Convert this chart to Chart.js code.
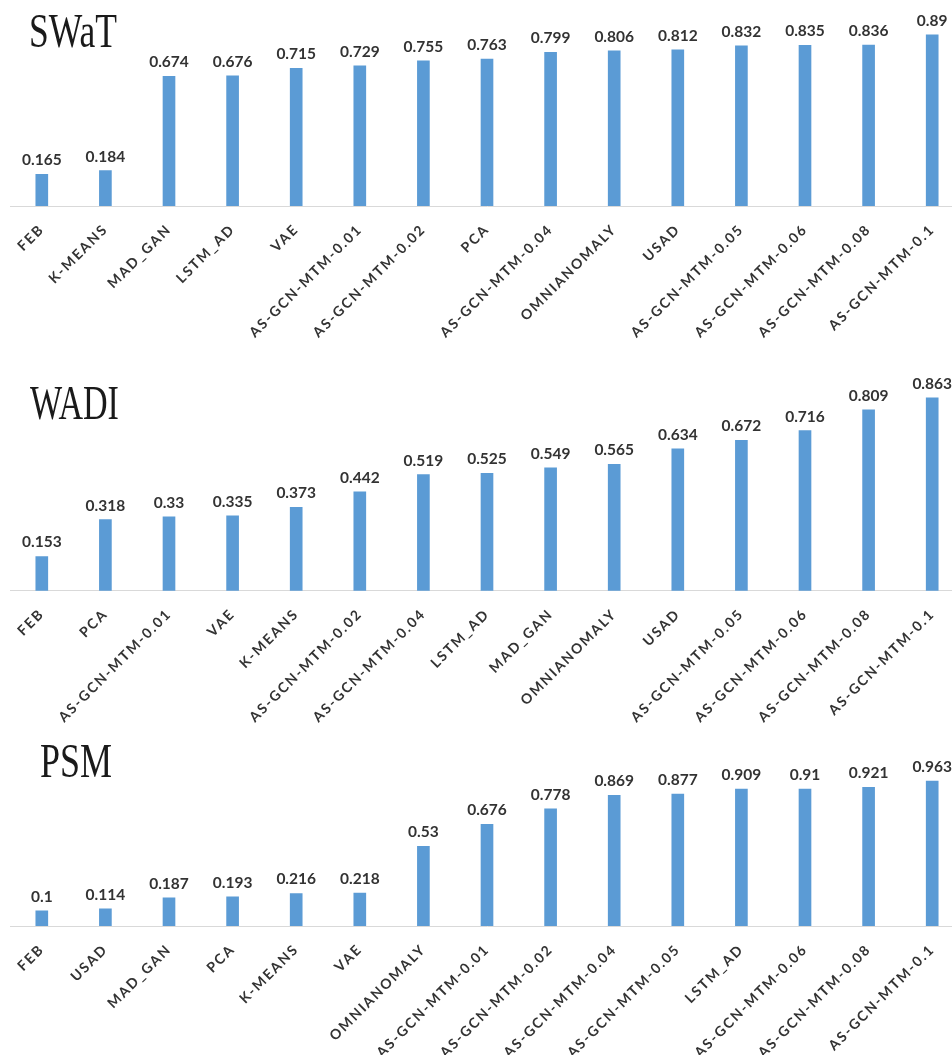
<!DOCTYPE html>
<html>
<head>
<meta charset="utf-8">
<script src="https://cdn.jsdelivr.net/npm/chart.js@4/dist/chart.umd.min.js"></script>
<style>
  html, body { margin: 0; padding: 0; background: #ffffff; overflow: hidden; width: 952px; height: 1055px; }
  .wrap { position: absolute; left: 0; }
  canvas { position: absolute; left: 0; top: 0; }
  .ttl { position: absolute; font-family: "Liberation Serif", serif; font-size: 48px; line-height: 48px; color: #1a1a1a; white-space: nowrap; transform-origin: 0 0; }
</style>
</head>
<body>
<script>
// ---------- data ----------
const swatLabels = ["FEB","K-MEANS","MAD_GAN","LSTM_AD","VAE","AS-GCN-MTM-0.01","AS-GCN-MTM-0.02","PCA","AS-GCN-MTM-0.04","OMNIANOMALY","USAD","AS-GCN-MTM-0.05","AS-GCN-MTM-0.06","AS-GCN-MTM-0.08","AS-GCN-MTM-0.1"];
const swatValues = [0.165,0.184,0.674,0.676,0.715,0.729,0.755,0.763,0.799,0.806,0.812,0.832,0.835,0.836,0.89];

const wadiLabels = ["FEB","PCA","AS-GCN-MTM-0.01","VAE","K-MEANS","AS-GCN-MTM-0.02","AS-GCN-MTM-0.04","LSTM_AD","MAD_GAN","OMNIANOMALY","USAD","AS-GCN-MTM-0.05","AS-GCN-MTM-0.06","AS-GCN-MTM-0.08","AS-GCN-MTM-0.1"];
const wadiValues = [0.153,0.318,0.33,0.335,0.373,0.442,0.519,0.525,0.549,0.565,0.634,0.672,0.716,0.809,0.863];

const psmLabels = ["FEB","USAD","MAD_GAN","PCA","K-MEANS","VAE","OMNIANOMALY","AS-GCN-MTM-0.01","AS-GCN-MTM-0.02","AS-GCN-MTM-0.04","AS-GCN-MTM-0.05","LSTM_AD","AS-GCN-MTM-0.06","AS-GCN-MTM-0.08","AS-GCN-MTM-0.1"];
const psmValues = [0.1,0.114,0.187,0.193,0.216,0.218,0.53,0.676,0.778,0.869,0.877,0.909,0.91,0.921,0.963];

const titles = ["SWaT", "WADI", "PSM"];

// ---------- layout / style ----------
const BAR_COLOR = "#5B9BD5";
const TEXT_COLOR = "#333333";
const CANVAS_W = 964;

const panels = [
  { title: titles[0], labels: swatLabels, values: swatValues, top: 0,   height: 350, padTop: 13.6, axisH: 144,   titleTop: 6.5,   titleLeft: 29, titleScale: 0.74 },
  { title: titles[1], labels: wadiLabels, values: wadiValues, top: 350, height: 375, padTop: 17.1, axisH: 134.3, titleTop: 378.5, titleLeft: 30, titleScale: 0.71 },
  { title: titles[2], labels: psmLabels,  values: psmValues,  top: 725, height: 330, padTop: 50.5, axisH: 129,   titleTop: 736.5, titleLeft: 40, titleScale: 0.75 }
];

const tickSpacing = {
  id: 'tickSpacing',
  beforeDraw(chart) { chart.ctx.letterSpacing = '1.8px'; },
  beforeDatasetsDraw(chart) { chart.ctx.letterSpacing = '0px'; }
};

const valueLabels = {
  id: 'valueLabels',
  afterDatasetsDraw(chart) {
    const ctx = chart.ctx;
    ctx.save();
    ctx.letterSpacing = '0px';
    ctx.font = 'bold 15.5px Lato';
    ctx.fillStyle = TEXT_COLOR;
    ctx.textAlign = 'center';
    ctx.textBaseline = 'alphabetic';
    const meta = chart.getDatasetMeta(0);
    const data = chart.data.datasets[0].data;
    meta.data.forEach((bar, i) => {
      ctx.fillText(String(data[i]), bar.x, bar.y - 9);
    });
    ctx.restore();
  }
};

panels.forEach(p => {
  const wrap = document.createElement('div');
  wrap.className = 'wrap';
  wrap.style.top = p.top + 'px';
  wrap.style.width = CANVAS_W + 'px';
  wrap.style.height = p.height + 'px';
  const cv = document.createElement('canvas');
  cv.width = CANVAS_W;
  cv.height = p.height;
  cv.style.width = CANVAS_W + 'px';
  cv.style.height = p.height + 'px';
  wrap.appendChild(cv);
  document.body.appendChild(wrap);

  const t = document.createElement('div');
  t.className = 'ttl';
  t.textContent = p.title;
  t.style.top = p.titleTop + 'px';
  t.style.left = p.titleLeft + 'px';
  t.style.transform = 'scaleX(' + p.titleScale + ')';
  document.body.appendChild(t);

  new Chart(cv, {
    type: 'bar',
    data: {
      labels: p.labels,
      datasets: [{ data: p.values, backgroundColor: BAR_COLOR, borderWidth: 0, barThickness: 12 }]
    },
    options: {
      responsive: false,
      animation: false,
      devicePixelRatio: 1,
      layout: { padding: { left: 10, right: 0, top: p.padTop, bottom: 0 } },
      plugins: { legend: { display: false }, tooltip: { enabled: false }, title: { display: false } },
      scales: {
        x: {
          grid: { display: false, drawTicks: false },
          border: { display: true, color: '#D9D9D9', width: 1 },
          ticks: {
            autoSkip: false,
            maxRotation: 45,
            minRotation: 45,
            padding: 15,
            color: TEXT_COLOR,
            font: { family: 'Lato', weight: 'bold', size: 14 }
          },
          afterFit(scale) { scale.height = p.axisH; scale.paddingLeft = 0; scale.paddingRight = 0; }
        },
        y: { display: false, min: 0, max: 1 }
      }
    },
    plugins: [tickSpacing, valueLabels]
  });
});
</script>
</body>
</html>
